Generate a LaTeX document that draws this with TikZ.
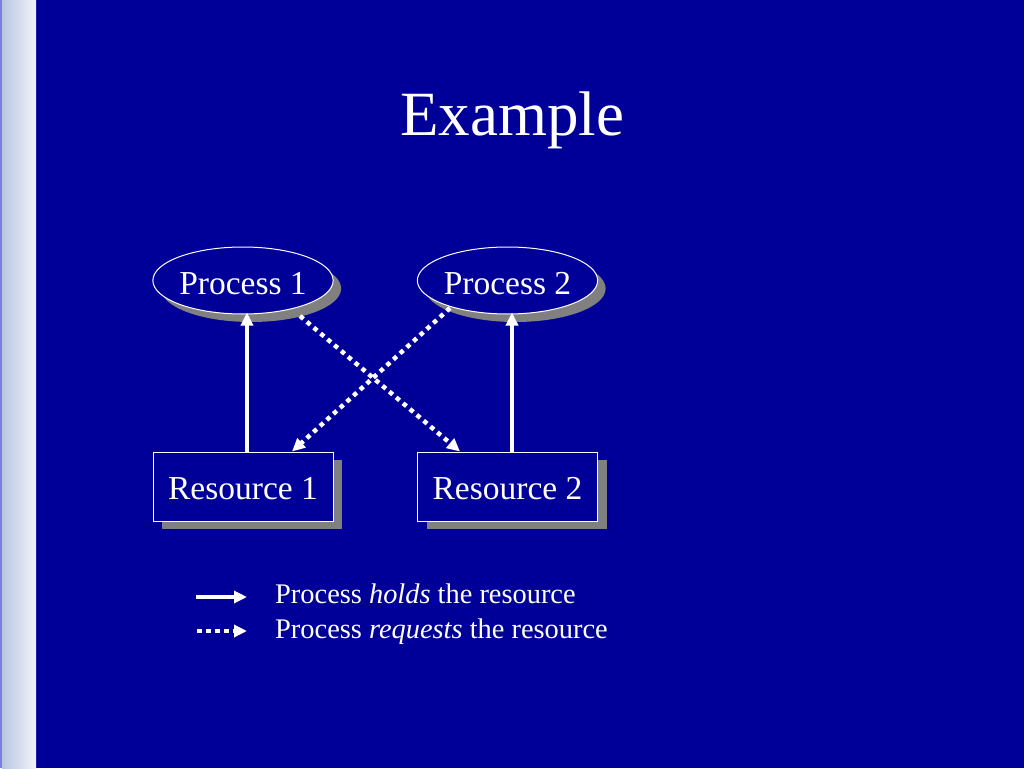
\documentclass[tikz,border=0pt]{standalone}
\usepackage{fontspec}
\setmainfont{Liberation Serif}
\usetikzlibrary{arrows.meta,shapes.geometric,shadows}
\definecolor{bgblue}{RGB}{0,0,153}
\definecolor{stripL}{RGB}{184,198,224}
\definecolor{stripR}{RGB}{242,244,250}
\definecolor{stripedge}{RGB}{120,130,220}
\definecolor{shadowgray}{RGB}{128,128,128}
\newcommand{\lowered}[2]{\raisebox{#1}[\height][\depth]{#2}}
\tikzset{
  proc/.style={ellipse, draw=white, line width=1pt, fill=bgblue, text=white,
    minimum width=180pt, minimum height=67pt, inner sep=0pt,
    font=\fontsize{33.5}{36}\selectfont,
    drop shadow={shadow xshift=8pt, shadow yshift=-8pt, fill=shadowgray, opacity=1}},
  res/.style={rectangle, draw=white, line width=1pt, fill=bgblue, text=white,
    minimum width=180pt, minimum height=69pt, inner sep=0pt,
    font=\fontsize{33.5}{36}\selectfont,
    drop shadow={shadow xshift=9pt, shadow yshift=-8pt, fill=shadowgray, opacity=1}},
  holds/.style={draw=white, line width=4pt, -{Triangle[length=13pt,width=12pt]}},
  requests/.style={draw=white, line width=4.5pt, dash pattern=on 4.5pt off 4.5pt,
    -{Triangle[length=13pt,width=12pt]}},
  legtext/.style={anchor=base west, text=white, inner sep=0pt,
    font=\fontsize{28.4}{32}\selectfont},
}
\begin{document}
\begin{tikzpicture}[x=1pt,y=-1pt]
\fill[bgblue] (0,0) rectangle (1024,768);
\useasboundingbox (0,0) rectangle (1024,768);
\shade[left color=stripL, right color=stripR] (2,0) rectangle (36,768);
\fill[stripedge] (0,0) rectangle (2,768);

\node[text=white, font=\fontsize{63}{70}\selectfont, anchor=base, inner sep=0pt] (title) at (512,135) {Example};

\node[proc] (p1) at (243,280.5) {\lowered{-3pt}{Process 1}};
\node[proc] (p2) at (507.5,280.5) {\lowered{-3pt}{Process 2}};
\node[res] (r1) at (243,486.5) {\lowered{-2pt}{Resource 1}};
\node[res] (r2) at (507.5,486.5) {\lowered{-2pt}{Resource 2}};

\draw[holds] ([xshift=4pt]r1.north) -- ([xshift=4pt,yshift=2pt]p1.south);
\draw[holds] ([xshift=4.5pt]r2.north) -- ([xshift=4.5pt,yshift=2pt]p2.south);
\draw[requests] ([shift={(57,35.5)}]p1.center) -- ([xshift=-47.5pt]r2.north);
\draw[requests] ([shift={(-57.5,27.5)}]p2.center) -- ([xshift=49pt]r1.north);

\coordinate (h1) at (196,597);
\coordinate (h2) at (247,597);
\coordinate (q1) at (197,631);
\coordinate (q2) at (247,631);
\draw[holds] (h1) -- (h2);
\draw[requests] (q1) -- (q2);
\node[legtext] (l1) at (275,603) {Process \textit{holds} the resource};
\node[legtext] (l2) at (275,638) {Process \textit{requests} the resource};
\end{tikzpicture}
\end{document}
